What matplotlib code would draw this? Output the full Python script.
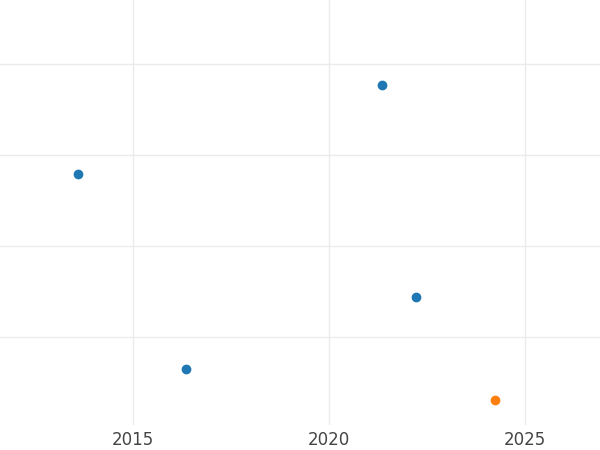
import matplotlib.pyplot as plt

# data
years_blue = [2013.6, 2016.35, 2021.35, 2022.22]
values_blue = [2.79, 0.65, 3.77, 1.44]
years_orange = [2024.23]
values_orange = [0.31]
xticks = [2015, 2020, 2025]
yticks = [1, 2, 3, 4]

fig = plt.figure(figsize=(6, 4.5), dpi=100)
ax = fig.add_axes([0, 25 / 450, 1, 425 / 450])

ax.scatter(years_blue, values_blue, s=36, color='#1f77b4', zorder=3)
ax.scatter(years_orange, values_orange, s=36, color='#ff7f0e', zorder=3)

ax.set_xlim(2011.61, 2026.91)
ax.set_ylim(0.03, 4.70)
ax.set_xticks(xticks)
ax.set_xticklabels([str(t) for t in xticks])
ax.set_yticks(yticks)
ax.set_yticklabels([])
ax.grid(True, color='#ebebeb', linewidth=1)
ax.set_axisbelow(True)
ax.tick_params(length=0, labelsize=12, labelcolor='#444444', pad=4)
for s in ax.spines.values():
    s.set_visible(False)

plt.savefig('out.png')
